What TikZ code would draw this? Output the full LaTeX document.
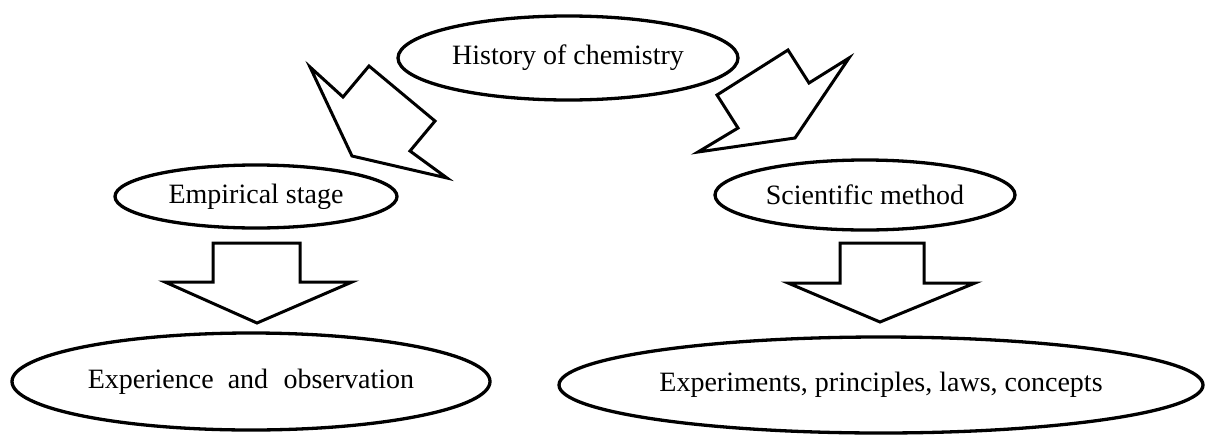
\documentclass[tikz,border=0pt]{standalone}
\usepackage{fontspec}
\setmainfont{Liberation Serif}
\usetikzlibrary{shapes.geometric}
\begin{document}
\begin{tikzpicture}[x=1pt,y=-1pt,
  oval/.style={ellipse,draw,line width=3.3pt,inner sep=0pt,
    font=\fontsize{28}{32}\selectfont},
  blockarrow/.style={draw,line width=3pt,line join=miter,fill=white}]
\useasboundingbox (0,0) rectangle (1206,434);

% stages
\node[oval,minimum width=340pt,minimum height=84pt] (hist) at (568,58) {History of chemistry};
\node[oval,minimum width=282pt,minimum height=63pt] (emp) at (256,196.5) {Empirical stage};
\node[oval,minimum width=300pt,minimum height=70pt] (sci) at (865,195) {Scientific method};
\node[oval,minimum width=478pt,minimum height=97pt] (exp) at (251,381.5)
  {Experience\hspace{0.5em}and\hspace{0.55em}observation};
\node[oval,minimum width=644pt,minimum height=96pt] (expt) at (881,385)
  {Experiments, principles, laws, concepts};

% notched arrows from the history down to the two stages
\draw[blockarrow] (310,67) -- (343,97) -- (369,66) -- (435,121) -- (410,151)
  -- (447,178) -- (352,156) -- cycle;
\draw[blockarrow] (788,50) -- (809,83) -- (849,58) -- (795,138) -- (698,152)
  -- (738,128) -- (717,95) -- cycle;

% down arrows from each stage to its outcome
\draw[blockarrow] (213,243) -- (300,243) -- (300,282) -- (352,282) -- (257,323)
  -- (165,282) -- (213,282) -- cycle;
\draw[blockarrow] (840,243) -- (924,243) -- (924,283) -- (975,283) -- (880,322)
  -- (788,283) -- (840,283) -- cycle;
\end{tikzpicture}
\end{document}
